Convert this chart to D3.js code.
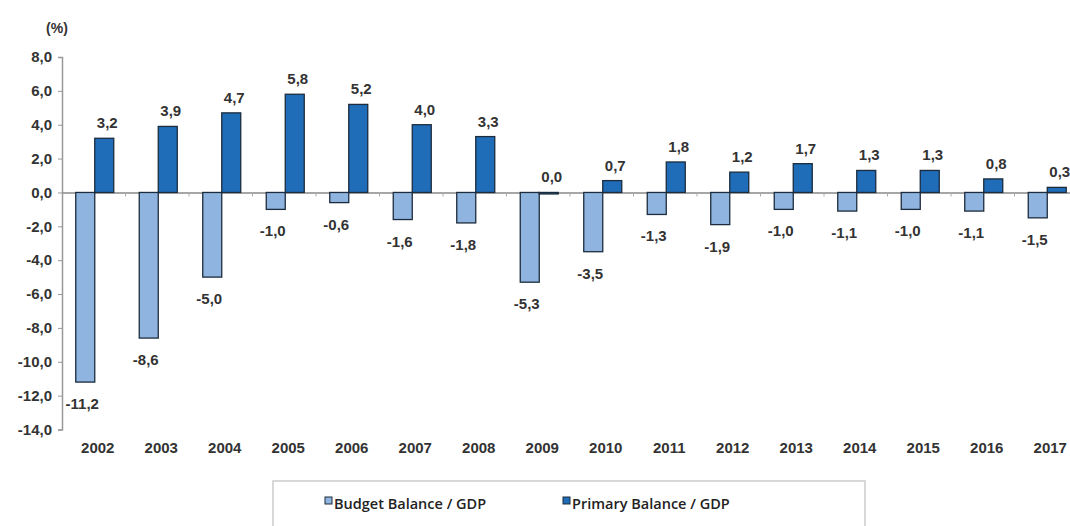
<!DOCTYPE html>
<html>
<head>
<meta charset="utf-8">
<script src="https://cdn.jsdelivr.net/npm/d3@7"></script>
<style>
  body { margin: 0; background: #fff; }
  text { font-family: "Liberation Sans", Arial, sans-serif; }
</style>
</head>
<body>
<svg id="chart" width="1070" height="526"></svg>
<script>
const years = ["2002","2003","2004","2005","2006","2007","2008","2009","2010","2011","2012","2013","2014","2015","2016","2017"];
const budgetBalance = [-11.2, -8.6, -5.0, -1.0, -0.6, -1.6, -1.8, -5.3, -3.5, -1.3, -1.9, -1.0, -1.1, -1.0, -1.1, -1.5];
const primaryBalance = [3.2, 3.9, 4.7, 5.8, 5.2, 4.0, 3.3, 0.0, 0.7, 1.8, 1.2, 1.7, 1.3, 1.3, 0.8, 0.3];
const seriesNames = ["Budget Balance  / GDP", "Primary Balance / GDP"];
const yTicks = [8, 6, 4, 2, 0, -2, -4, -6, -8, -10, -12, -14];

const colors = ["#8fb4e0", "#1f6db8"];
const svg = d3.select("#chart");
const fmt = (v) => v.toFixed(1).replace(".", ",");

// plot area
const plotLeft = 62, plotRight = 1078, plotTop = 57, plotBottom = 429.5;

let x = d3.scaleBand().domain(years).range([plotLeft, plotRight]);
let y = d3.scaleLinear().domain([-14, 8]).range([plotBottom, plotTop]);
let sub = d3.scaleBand().domain([0, 1]).range([0, 38]);

// y axis
let yAxis = d3.axisLeft(y).tickValues(yTicks).tickSize(4).tickFormat(fmt);
let yg = svg.append("g").attr("transform", `translate(${plotLeft},0)`).call(yAxis);
yg.select(".domain").attr("stroke", "#999").attr("stroke-width", 1.5);
yg.selectAll(".tick line").attr("stroke", "#999");
yg.selectAll(".tick text")
  .attr("x", -10)
  .attr("fill", "#333")
  .style("font-family", null)
  .style("font-size", "15px")
  .style("font-weight", "bold");

svg.append("text")
   .attr("x", 57).attr("y", 33)
   .attr("text-anchor", "middle")
   .attr("fill", "#333")
   .style("font-size", "14px")
   .style("font-weight", "bold")
   .text("(%)");

// zero line with category ticks
let xAxis = d3.axisBottom(x).tickSize(0).tickFormat("");
svg.append("g")
   .attr("transform", `translate(0,${y(0)})`)
   .call(xAxis)
   .call(g => g.select(".domain").attr("stroke", "#888").attr("stroke-width", 1.5));
svg.append("g")
   .selectAll("line")
   .data(years.slice(1))
   .enter()
   .append("line")
   .attr("x1", (d) => x(d)).attr("x2", (d) => x(d))
   .attr("y1", y(0)).attr("y2", y(0) + 4)
   .attr("stroke", "#aaa");

// year labels
svg.append("g")
   .selectAll("text")
   .data(years)
   .enter()
   .append("text")
   .attr("x", (d) => x(d) + x.bandwidth() / 2 + 4)
   .attr("y", 453)
   .attr("text-anchor", "middle")
   .attr("fill", "#333")
   .style("font-size", "15px")
   .style("font-weight", "bold")
   .text((d) => d);

// bars
[budgetBalance, primaryBalance].forEach((values, si) => {
  let bx = (i) => x(years[i]) + x.bandwidth() / 2 - 19 + sub(si) + 1;
  svg.append("g")
     .selectAll("rect")
     .data(values)
     .enter()
     .append("rect")
     .attr("x", (d, i) => bx(i))
     .attr("width", sub.bandwidth())
     .attr("y", (d) => y(Math.max(0, d)))
     .attr("height", (d) => Math.max(1.5, Math.abs(y(d) - y(0))))
     .attr("fill", colors[si])
     .attr("stroke", "#1c2c3c")
     .attr("stroke-width", 1.3);

  svg.append("g")
     .selectAll("text")
     .data(values)
     .enter()
     .append("text")
     .attr("x", (d, i) => bx(i) + sub.bandwidth() / 2 + (si === 0 ? -3 : 3))
     .attr("y", (d) => d < 0 ? y(d) + 27 : y(d) - 10)
     .attr("text-anchor", "middle")
     .attr("fill", "#333")
     .style("font-size", "15px")
     .style("font-weight", "bold")
     .text((d) => fmt(d));
});

// legend
let legend = svg.append("g");
legend.append("rect")
      .attr("x", 273).attr("y", 481)
      .attr("width", 592).attr("height", 60)
      .attr("fill", "#fff")
      .attr("stroke", "#ccc")
      .attr("stroke-width", 1.5);
let legendX = [325, 563];
seriesNames.forEach((name, i) => {
  legend.append("rect")
        .attr("x", legendX[i]).attr("y", 497)
        .attr("width", 7).attr("height", 7)
        .attr("fill", colors[i])
        .attr("stroke", "#1c2c3c");
  legend.append("text")
        .attr("x", legendX[i] + 9).attr("y", 509)
        .attr("fill", "#222")
        .style("font-family", "'Open Sans', sans-serif")
        .style("font-size", "14.5px")
        .style("font-weight", "600")
        .text(name);
});
</script>
</body>
</html>
